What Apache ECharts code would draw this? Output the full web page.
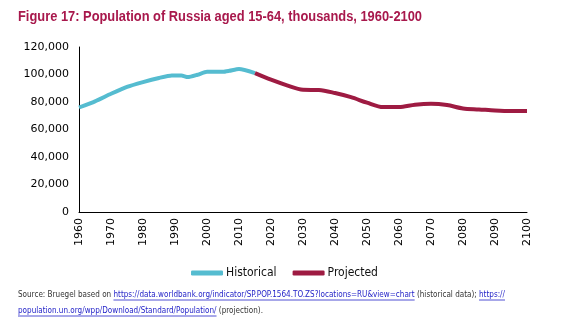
<!DOCTYPE html>
<html>
<head>
<meta charset="utf-8">
<script src="https://cdn.jsdelivr.net/npm/echarts@6/dist/echarts.min.js"></script>
<style>
  html, body { margin: 0; padding: 0; background: #fff; }
  #chart { width: 569px; height: 335px; }
</style>
</head>
<body>
<div id="chart"></div>
<script>
// Working-age population of Russia (15-64), thousands
const histYears = [1960, 1965, 1970, 1975, 1980, 1985, 1989, 1992, 1994, 1997, 2000, 2005, 2007, 2010, 2015];
const histValues = [76000, 80500, 86000, 91000, 94500, 97500, 99300, 99300, 98100, 99800, 102000, 102000, 102700, 104000, 101000];

const projYears = [2015, 2020, 2025, 2030, 2035, 2040, 2045, 2050, 2055, 2060, 2065, 2070, 2075, 2080, 2085, 2090, 2095, 2100];
const projValues = [101000, 96200, 92100, 88900, 88700, 86500, 83500, 79500, 76300, 76300, 78000, 78700, 77800, 75300, 74600, 73800, 73400, 73400];

const seriesNames = ['Historical', 'Projected'];
const titleText = 'Figure 17: Population of Russia aged 15-64, thousands, 1960-2100';

const sourceLines = [
  [
    { t: 'Source: Bruegel based on ', link: false },
    { t: 'https://data.worldbank.org/indicator/SP.POP.1564.TO.ZS?locations=RU&view=chart', link: true },
    { t: ' (historical data); ', link: false },
    { t: 'https://', link: true }
  ],
  [
    { t: 'population.un.org/wpp/Download/Standard/Population/', link: true },
    { t: ' (projection).', link: false }
  ]
];

const colHist = '#55BCD0';
const colProj = '#9E1B42';
const narrowFont = '"Liberation Sans Narrow", "DejaVu Sans Condensed", sans-serif';
const titleFont = '"Liberation Sans", Arial, sans-serif';
const srcSize = 9;
const titleSize = 14;

function zip(xs, ys) { return xs.map((x, i) => [x, ys[i]]); }

// canvas context for measuring text so the heading and note fit their widths
const ctx = document.createElement('canvas').getContext('2d');

const graphics = [];

// heading, condensed horizontally to a fixed width
ctx.font = 'bold ' + titleSize + 'px ' + titleFont;
const titleW = ctx.measureText(titleText).width;
graphics.push({
  type: 'text', x: 18, y: 10, scaleX: 404 / titleW,
  style: { text: titleText, fill: '#A8184C', font: 'bold ' + titleSize + 'px ' + titleFont }
});

// source note with underlined links
ctx.font = srcSize + 'px ' + narrowFont;
const firstW = sourceLines[0].reduce((a, s) => a + ctx.measureText(s.t).width, 0);
const sx = 487 / firstW;
const lineY = [295, 311];
sourceLines.forEach((segs, li) => {
  let x = 18;
  segs.forEach(s => {
    const w = ctx.measureText(s.t).width * sx;
    graphics.push({
      type: 'text', x: x, y: lineY[li] - 5, scaleX: sx,
      style: { text: s.t, fill: s.link ? '#2323C8' : '#333333', font: srcSize + 'px ' + narrowFont }
    });
    if (s.link) {
      graphics.push({
        type: 'line',
        shape: { x1: x, y1: lineY[li] + 5, x2: x + w, y2: lineY[li] + 5 },
        style: { stroke: '#2323C8', lineWidth: 0.8 }
      });
    }
    x += w;
  });
});

const chart = echarts.init(document.getElementById('chart'), null, { renderer: 'canvas' });
chart.setOption({
  animation: false,
  grid: { left: 79, right: 42, top: 47, bottom: 123 },
  legend: {
    data: seriesNames,
    bottom: 51, left: 'center',
    itemWidth: 32, itemHeight: 5, itemGap: 16,
    icon: 'roundRect',
    textStyle: { color: '#111', fontSize: 12, fontFamily: narrowFont, padding: [0, 0, 0, -2] }
  },
  xAxis: {
    type: 'value', min: 1960, max: 2100, interval: 10,
    axisLine: { show: true, lineStyle: { color: '#000', width: 1 } },
    axisTick: { show: false },
    splitLine: { show: false },
    axisLabel: {
      rotate: 90, color: '#000', fontSize: 11, fontFamily: '"DejaVu Sans", sans-serif', margin: 6,
      formatter: v => String(v)
    }
  },
  yAxis: {
    type: 'value', min: 0, max: 120000, interval: 20000,
    axisLine: { show: true, lineStyle: { color: '#000', width: 1 } },
    axisTick: { show: false },
    splitLine: { show: false },
    axisLabel: {
      color: '#000', fontSize: 11, fontFamily: '"DejaVu Sans", sans-serif', margin: 10,
      formatter: v => v.toLocaleString('en-US')
    }
  },
  series: [
    {
      name: seriesNames[0], type: 'line', data: zip(histYears, histValues),
      showSymbol: false, smooth: 0.2,
      lineStyle: { color: colHist, width: 4 }, itemStyle: { color: colHist }
    },
    {
      name: seriesNames[1], type: 'line', data: zip(projYears, projValues),
      showSymbol: false, smooth: 0.3,
      lineStyle: { color: colProj, width: 4 }, itemStyle: { color: colProj }
    }
  ],
  graphic: graphics
});
</script>
</body>
</html>
